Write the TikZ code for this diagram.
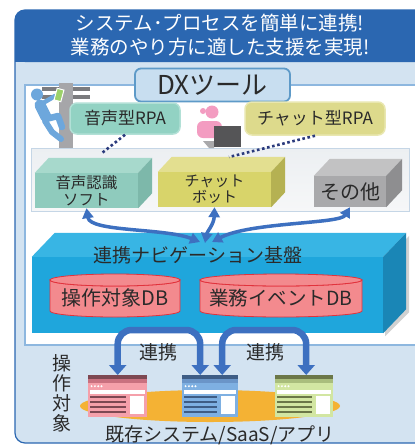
\documentclass[tikz,border=0pt]{standalone}
\usepackage{fontspec}
\setmainfont{Noto Sans CJK JP}
\usetikzlibrary{arrows.meta}

\definecolor{hdrblue}{HTML}{2B67B1}
\definecolor{panelbg}{HTML}{D3E3F1}
\definecolor{innerline}{HTML}{8DB7DF}
\definecolor{dxfill}{HTML}{C8DEF0}
\definecolor{dxline}{HTML}{5E9AC8}
\definecolor{tealc}{HTML}{92D2C3}
\definecolor{tealedge}{HTML}{B2E0D6}
\definecolor{yelc}{HTML}{DDDA8C}
\definecolor{yeledge}{HTML}{E9E7B0}
\definecolor{navydot}{HTML}{2A3A7C}
\definecolor{stripline}{HTML}{C5D6E6}
\definecolor{striptop}{HTML}{ECEFF2}
\definecolor{stripbot}{HTML}{F6F7F8}
\definecolor{textdark}{HTML}{2A2A2A}
\definecolor{tealfront}{HTML}{8FCBBD}
\definecolor{tealtop}{HTML}{A7D9CC}
\definecolor{tealside}{HTML}{7DB8AA}
\definecolor{yelfront}{HTML}{D8D46A}
\definecolor{yeltop}{HTML}{E3DF90}
\definecolor{yelside}{HTML}{B5B152}
\definecolor{grayfront}{HTML}{A9A9AB}
\definecolor{graytop}{HTML}{C2C2C3}
\definecolor{grayside}{HTML}{8E8E90}
\definecolor{platfront}{HTML}{1FA6DC}
\definecolor{plattop}{HTML}{38B5E4}
\definecolor{platside}{HTML}{1A86B6}
\definecolor{dbfill}{HTML}{F38A8E}
\definecolor{dbline}{HTML}{E2323C}
\definecolor{arrowblue}{HTML}{3D70C0}
\definecolor{groundorange}{HTML}{F4B234}
\definecolor{polegray}{HTML}{A6A6A9}
\definecolor{bargray}{HTML}{7B7B7E}
\definecolor{climbblue}{HTML}{6DA7DC}
\definecolor{phonegreen}{HTML}{9CD16A}
\definecolor{pinkperson}{HTML}{F39CC1}
\definecolor{laptopgray}{HTML}{555557}
\definecolor{laptopbase}{HTML}{A9A9AB}
% window icon colours
\definecolor{pkbody}{HTML}{F5A0AA}
\definecolor{pkband}{HTML}{C9717F}
\definecolor{pktitle}{HTML}{7D4852}
\definecolor{blbody}{HTML}{7EB0E2}
\definecolor{blband}{HTML}{6A95C8}
\definecolor{bltitle}{HTML}{3E5D85}
\definecolor{grbody}{HTML}{D2E6A2}
\definecolor{grband}{HTML}{A9BD7C}
\definecolor{grtitle}{HTML}{6B7748}

\newcommand{\fsz}[2]{\fontsize{#1}{#2}\selectfont}

% application window icon: name, left x, top y, width, body, band, title
\newcommand{\appwin}[7]{%
  \begin{scope}[shift={(#2,#3)}]
    \node[fill=#5, minimum width=#4, minimum height=42, inner sep=0, anchor=north west] (#1) at (0,0) {};
    \fill[#7] (0,0) rectangle (#4,4);
    \fill[#6] (0,4) rectangle (#4,8.3);
    \foreach \dx in {3.6,6.9,10.2,13.5} \fill[white] (\dx,11.2) circle (1.1);
    \fill[white] (2.2,15) rectangle (#4-2.2,19);
    \foreach \ly in {21.7,26.7,31.7,36.7} \fill[#7] (2.2,\ly-0.8) rectangle (#4-21.5,\ly+0.8);
    \fill[white] (#4-17,21) rectangle (#4-2.6,39);
  \end{scope}}

\tikzset{
  rpabox/.style={rounded corners=7, inner sep=0, line width=1.5, font=\fsz{17}{17}, text=textdark},
  frontface/.style={inner sep=0, align=center, text=textdark},
  linkarrow/.style={draw=arrowblue, line width=3.5,
    {Triangle[length=10pt,width=11pt]}-{Triangle[length=10pt,width=11pt]}},
  bigarrow/.style={draw=arrowblue, line width=6.5, rounded corners=14,
    {Triangle[length=10pt,width=17pt]}-{Triangle[length=10pt,width=17pt]}},
  dotlink/.style={draw=navydot, line width=2.6, dash pattern=on 2.6pt off 2.6pt},
  dbcyl/.style={fill=dbfill, draw=dbline, line width=0.8},
  label/.style={font=\fsz{19}{19}, text=textdark, inner sep=0},
}

\begin{document}
\begin{tikzpicture}[x=1pt,y=-1pt]
\useasboundingbox (0,0) rectangle (415,445);
\clip (0,0) rectangle (415,445);

% outer panel and header band
\fill[panelbg, rounded corners=10] (15,10) rectangle (440,443);
\fill[hdrblue, rounded corners=10] (15,10) rectangle (440,62);
\fill[hdrblue] (15,40) rectangle (440,62);
\draw[hdrblue, line width=1.2, rounded corners=10] (15,10) rectangle (440,443);
\node[align=center, text=white, font=\fsz{19.5}{24.5}, inner sep=0] (title) at (220,35)
  {システム･プロセスを簡単に連携!\\業務のやり方に適した支援を実現!};

% tool area
\draw[fill=white, draw=innerline, line width=2] (25,85) rectangle (440,345);

% strip holding the front-end tools
\draw[stripline, line width=1, top color=striptop, bottom color=stripbot] (31,148) rectangle (409,211);

% worker on a pole
\fill[bargray] (42,87) rectangle (90,91);
\fill[bargray] (42,95) rectangle (90,98.5);
\fill[polegray] (59,83) rectangle (73,148);
\fill[climbblue] (37,94.5) circle (6);
\draw[climbblue, line width=11, line cap=round] (40,105) -- (46,117);
\draw[climbblue, line width=4.5, line cap=round] (43,103) -- (55,96);
\draw[climbblue, line width=6.5, line cap=round, line join=round] (46,119) -- (58,116) -- (62,127);
\draw[climbblue, line width=6, line cap=round, line join=round] (45,121) -- (52,132) -- (61,139);
\draw[white, fill=phonegreen, line width=1, rotate around={-15:(59,95)}] (55.5,89) rectangle (62.5,101);

% operator at a laptop
\fill[pinkperson] (203,111) circle (3);
\fill[pinkperson] (212,112) circle (6.5);
\fill[pinkperson, rounded corners=6] (197,138) -- (197,121) -- (222,121) -- (222,138) -- cycle;
\fill[laptopbase] (203,141) -- (214,141) -- (214,148) -- (209,148) -- cycle;
\fill[laptopgray] (214,126) rectangle (241,147);

% DX tool heading
\node[draw=dxline, line width=1.8, fill=dxfill, rounded corners=6, minimum width=155,
  minimum height=33, inner sep=0, font=\fsz{26}{26}, text=textdark] (dx) at (212.5,85) {DXツール};

% RPA boxes
\node[rpabox, fill=tealc, draw=tealedge, minimum width=110, minimum height=31] (vrpa) at (125,118.5) {音声型RPA};
\node[rpabox, fill=yelc, draw=yeledge, minimum width=140, minimum height=33] (crpa) at (315,118.5) {チャット型RPA};

% front-end tools as blocks
\node[frontface, fill=tealfront, minimum width=103, minimum height=35, font=\fsz{15.5}{16.5}] (soft) at (86.5,190.5) {音声認識\\ソフト};
\fill[tealtop] (soft.north west) -- ++(14,-15) -- ([shift={(14,-15)}]soft.north east) -- (soft.north east) -- cycle;
\fill[tealside] (soft.north east) -- ++(14,-15) -- ([shift={(14,-15)}]soft.south east) -- (soft.south east) -- cycle;

\node[frontface, fill=yelfront, minimum width=113, minimum height=35, font=\fsz{15}{16.5}] (bot) at (214.5,189.5) {チャット\\ボット};
\fill[yeltop] (bot.north west) -- ++(14,-15) -- ([shift={(14,-15)}]bot.north east) -- (bot.north east) -- cycle;
\fill[yelside] (bot.north east) -- ++(14,-15) -- ([shift={(14,-15)}]bot.south east) -- (bot.south east) -- cycle;

\node[frontface, fill=grayfront, minimum width=72, minimum height=31, font=\fsz{20}{20}] (other) at (350,191.5) {その他};
\fill[graytop] (other.north west) -- ++(16,-17) -- ([shift={(16,-17)}]other.north east) -- (other.north east) -- cycle;
\fill[grayside] (other.north east) -- ++(16,-17) -- ([shift={(16,-17)}]other.south east) -- (other.south east) -- cycle;

% dotted ties between RPA and tools
\coordinate (softtie) at (102,153);
\coordinate (bottie) at (229,157);
\draw[dotlink] (vrpa.south) -- (softtie);
\draw[dotlink] (crpa.south) -- (bottie);

% navigation platform block
\node[fill=platfront, minimum width=351, minimum height=76, inner sep=0] (plat) at (207.5,295) {};
\fill[black, opacity=0.18] ([shift={(2,3)}]plat.north east) -- ([shift={(26,-21)}]plat.north east)
  -- ([shift={(26,-21)}]plat.south east) -- ([shift={(2,3)}]plat.south east) -- cycle;
\fill[plattop] (plat.north west) -- ++(23,-24) -- ([shift={(23,-24)}]plat.north east) -- (plat.north east) -- cycle;
\fill[platside] (plat.north east) -- ++(23,-24) -- ([shift={(23,-24)}]plat.south east) -- (plat.south east) -- cycle;
\node[label] (navi) at (198,255) {連携ナビゲーション基盤};

% databases
\filldraw[dbcyl] (50,280) -- (50,311) arc[start angle=180, end angle=0, x radius=65, y radius=6]
  -- (180,280) arc[start angle=0, end angle=180, x radius=65, y radius=6] -- cycle;
\filldraw[dbcyl] (115,280) ellipse[x radius=65, y radius=6];
\node[label, font=\fsz{20}{20}] (db1) at (115,298) {操作対象DB};
\filldraw[dbcyl] (200,280) -- (200,311) arc[start angle=180, end angle=0, x radius=81, y radius=6]
  -- (362,280) arc[start angle=0, end angle=180, x radius=81, y radius=6] -- cycle;
\filldraw[dbcyl] (281,280) ellipse[x radius=81, y radius=6];
\node[label, font=\fsz{19.5}{19.5}] (db2) at (281,298) {業務イベントDB};

% links between tools and platform
\coordinate (hubL) at (200,242);
\coordinate (hubM) at (205,243);
\coordinate (hubR) at (212,242);
\draw[linkarrow] (soft.south) .. controls (90,232) and (165,228) .. (hubL);
\draw[linkarrow] (bot.south) .. controls (214,224) and (207,232) .. (hubM);
\draw[linkarrow] (other.south) .. controls (340,224) and (250,222) .. (hubR);

% target systems
\fill[groundorange] (210,406) ellipse[x radius=130, y radius=16];
\appwin{win1}{88}{375}{59}{pkbody}{pkband}{pktitle}
\appwin{win2}{182}{375}{56}{blbody}{blband}{bltitle}
\appwin{win3}{275}{375}{58}{grbody}{grband}{grtitle}

% linkage arrows between systems
\coordinate (archtop) at (0,330);
\draw[bigarrow] (win1.north) -- (win1.north |- archtop)
  -- ([xshift=-10pt]win2.north |- archtop) -- ([xshift=-10pt]win2.north);
\draw[bigarrow] ([xshift=12pt]win2.north) -- ([xshift=12pt]win2.north |- archtop)
  -- ([xshift=2pt]win3.north |- archtop) -- ([xshift=2pt]win3.north);
\node[label] (link1) at (158,352) {連携};
\node[label] (link2) at (265,352) {連携};

% captions
\node[label, align=center, font=\fsz{19}{20}] (target) at (62,393) {操\\作\\対\\象};
\node[label] (systems) at (220,435) {既存システム/SaaS/アプリ};
\end{tikzpicture}
\end{document}
